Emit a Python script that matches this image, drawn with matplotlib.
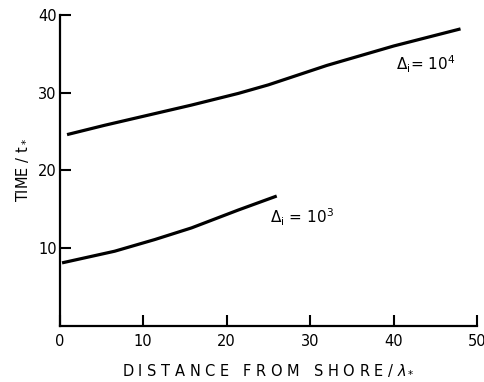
import matplotlib.pyplot as plt

# upper curve, Delta_i = 10^4
x_hi = [0.9, 5.4, 11.4, 15.8, 21.4, 25.0, 32.0, 40.0, 48.0]
t_hi = [24.6, 25.8, 27.3, 28.4, 29.9, 31.0, 33.5, 36.0, 38.2]

# lower curve, Delta_i = 10^3
x_lo = [0.3, 6.6, 11.4, 15.8, 21.4, 26.0]
t_lo = [8.1, 9.6, 11.1, 12.6, 14.9, 16.7]

x_ticks = [0, 10, 20, 30, 40, 50]
y_ticks = [10, 20, 30, 40]

plt.rcParams['font.family'] = ['DejaVu Sans']
plt.rcParams['mathtext.fontset'] = 'dejavusans'

fig = plt.figure(figsize=(4.84, 3.82), dpi=100)
ax = fig.add_axes([0.123, 0.147, 0.863, 0.814])

ax.plot(x_hi, t_hi, color='black', linewidth=2.3, solid_capstyle='butt')
ax.plot(x_lo, t_lo, color='black', linewidth=2.3, solid_capstyle='butt')

ax.set_xlim(0, 50)
ax.set_ylim(0, 40)
ax.set_xticks(x_ticks)
ax.set_yticks(y_ticks)
ax.tick_params(direction='in', length=8, width=1.5, labelsize=10.5, pad=6)
ax.tick_params(axis='y', pad=2)
ax.spines['top'].set_visible(False)
ax.spines['right'].set_visible(False)
ax.spines['left'].set_linewidth(1.6)
ax.spines['bottom'].set_linewidth(1.6)

ax.text(40.3, 33.6, r'$\Delta_{\rm i}$= 10$^4$', fontsize=11, va='center')
ax.text(25.2, 14.0, r'$\Delta_{\rm i}$ = 10$^3$', fontsize=11, va='center')

ax.set_xlabel(r'D I S T A N C E   F R O M   S H O R E / $\lambda_*$', fontsize=10.5, labelpad=10)
ax.set_ylabel(r'TIME / t$_*$', fontsize=10.5, labelpad=6)

plt.savefig('out.png', dpi=100)
